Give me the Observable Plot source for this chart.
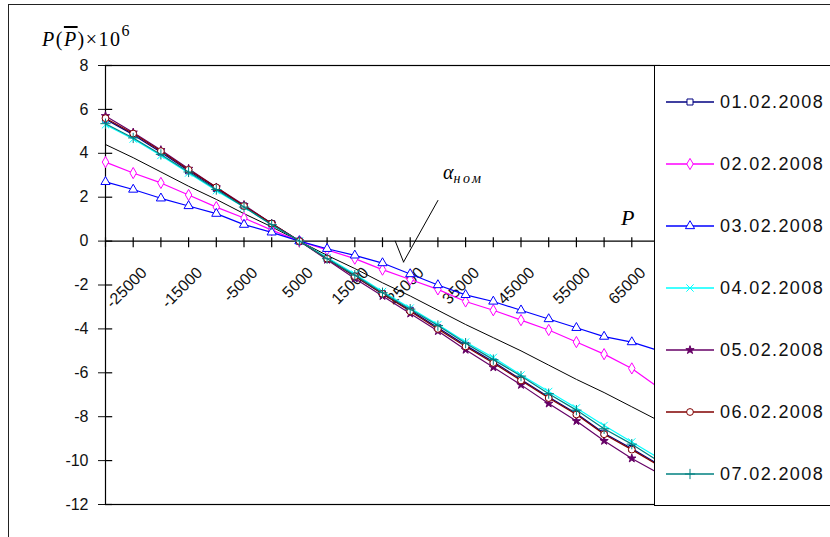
<!DOCTYPE html>
<html>
<head>
<meta charset="utf-8">
<script src="https://cdn.jsdelivr.net/npm/d3@7"></script>
<script src="https://cdn.jsdelivr.net/npm/@observablehq/plot@0.6"></script>
<style>
  body { margin: 0; background: #fff; }
  #wrap { position: relative; width: 830px; height: 537px; overflow: hidden; background: #fff;
          font-family: Arial, "Liberation Sans", sans-serif; }
  #border { position: absolute; left: 8px; top: 4px; width: 900px; height: 700px; border: 1.5px solid #222; box-sizing: border-box; }
  #chart { position: absolute; left: 0; top: 0; }
  .serif { font-family: "Liberation Serif", "Times New Roman", serif; white-space: nowrap; line-height: 1; position: absolute; }
  #title { left: 42px; top: 25px; font-size: 20px; letter-spacing: 1.5px; }
  #title sup { font-size: 16px; position: relative; top: -2px; }
  #plabel { left: 621px; top: 207px; font-size: 22px; font-style: italic; }
  #alpha { left: 443px; top: 162px; font-size: 20px; font-style: italic; }
  #alpha sub { font-size: 14px; letter-spacing: 2.5px; position: relative; top: -1px; }
  #legend { position: absolute; left: 654px; top: 65px; width: 260px; height: 441px; border: 1.5px solid #000;
            background: #fff; box-sizing: border-box; }
  .row { position: absolute; left: 10px; height: 20px; display: flex; align-items: center; }
  .row span { font-size: 18px; letter-spacing: 1.4px; line-height: 20px; color: #111; margin-left: 3px; white-space: nowrap; }
</style>
</head>
<body>
<div id="wrap">
  <div id="border"></div>
  <div id="chart"></div>
  <div id="title" class="serif"><i>P</i>(<i style="text-decoration: overline;">P</i>)×10<sup>6</sup></div>
  <div id="plabel" class="serif">P</div>
  <div id="alpha" class="serif">α<sub>ном</sub></div>
  <div id="legend"></div>
</div>
<script>
// ---- data ----
const xCategories = [-30000, -25000, -20000, -15000, -10000, -5000, 0, 5000, 10000, 15000, 20000,
                     25000, 30000, 35000, 40000, 45000, 50000, 55000, 60000, 65000, 70000];
const xTickLabels = [-25000, -15000, -5000, 5000, 15000, 25000, 35000, 45000, 55000, 65000];
const yTickValues = [8, 6, 4, 2, 0, -2, -4, -6, -8, -10, -12];

const seriesNames = ["01.02.2008", "02.02.2008", "03.02.2008", "04.02.2008", "05.02.2008", "06.02.2008", "07.02.2008"];
const seriesColors = ["#000080", "#FF00FF", "#0000FF", "#00FFFF", "#660066", "#800000", "#008080"];
const seriesSymbols = ["square", "diamond", "triangle", "times", "star", "circle", "plus"];

const values0102 = [5.55, 4.85, 4.05, 3.2, 2.4, 1.6, 0.8, 0, -0.8, -1.6, -2.4, -3.15, -3.95, -4.75, -5.5, -6.3, -7.1, -7.85, -8.75, -9.45, -10.2];
const values0202 = [3.6, 3.1, 2.65, 2.1, 1.55, 1.05, 0.5, 0, -0.4, -0.8, -1.3, -1.75, -2.2, -2.75, -3.15, -3.6, -4.05, -4.6, -5.15, -5.8, -6.7];
const values0302 = [2.7, 2.35, 1.95, 1.6, 1.25, 0.75, 0.4, 0, -0.35, -0.65, -1.0, -1.5, -2.0, -2.45, -2.75, -3.15, -3.55, -3.95, -4.35, -4.6, -5.0];
const values0402 = [5.3, 4.65, 3.9, 3.1, 2.3, 1.55, 0.75, 0, -0.75, -1.5, -2.3, -3.05, -3.8, -4.6, -5.3, -6.1, -6.85, -7.6, -8.4, -9.15, -9.9];
const values0502 = [5.7, 4.95, 4.15, 3.3, 2.45, 1.65, 0.8, 0, -0.85, -1.7, -2.5, -3.3, -4.1, -4.95, -5.75, -6.55, -7.4, -8.2, -9.1, -9.9, -10.6];
const values0602 = [5.6, 4.9, 4.1, 3.25, 2.45, 1.6, 0.8, 0, -0.8, -1.6, -2.4, -3.2, -4.0, -4.8, -5.55, -6.35, -7.15, -7.9, -8.8, -9.5, -10.25];
const values0702 = [5.35, 4.7, 3.95, 3.15, 2.35, 1.55, 0.75, 0, -0.8, -1.55, -2.35, -3.1, -3.85, -4.65, -5.4, -6.15, -6.95, -7.7, -8.55, -9.25, -10.05];
const nominalValues = [4.4, 3.8, 3.15, 2.5, 1.9, 1.25, 0.65, 0, -0.65, -1.25, -1.9, -2.5, -3.15, -3.8, -4.4, -5.0, -5.65, -6.3, -6.9, -7.55, -8.2];

// annotation pointer for α_ном (data coordinates)
const alphaPointer = [{x: 30000, y: 1.85}, {x: 23800, y: -0.95}];
const alphaArc = [{x: 22300, y: 0}, {x: 23800, y: -0.95}];

const allValues = [values0102, values0202, values0302, values0402, values0502, values0602, values0702];

// ---- tidy table ----
const rows = [];
allValues.forEach((vals, k) => vals.forEach((v, i) => rows.push({series: seriesNames[k], k, x: xCategories[i], y: v})));
const nominal = nominalValues.map((v, i) => ({x: xCategories[i], y: v}));

const fmt = d => (d < 0 ? "-" + Math.abs(d) : String(d));
const hollow = new Set(["square", "diamond", "triangle", "circle"]);
const symR = s => (s === "star" ? 2.6 : 3.4);

const marks = [
  Plot.frame({stroke: "#000", strokeWidth: 1.2}),
  Plot.ruleY(yTickValues, {y: d => d, x1: xCategories[0], x2: -28700, stroke: "#000", strokeWidth: 1.2}),
  Plot.ruleY([0], {stroke: "#000", strokeWidth: 1.2}),
  Plot.ruleX(xCategories, {x: d => d, y1: 0.15, y2: -0.3, stroke: "#000", strokeWidth: 1.2}),
  Plot.text(xTickLabels, {x: d => d, y: 0, text: d => fmt(d), rotate: -45, textAnchor: "end",
                          dx: 11, dy: 29, fontSize: 16, fill: "#111", style: "letter-spacing:1.2px"}),
  Plot.line(nominal, {x: "x", y: "y", stroke: "#000", strokeWidth: 1})
];
seriesNames.forEach((name, k) => {
  const d = rows.filter(r => r.k === k);
  const s = seriesSymbols[k];
  marks.push(Plot.line(d, {x: "x", y: "y", stroke: seriesColors[k], strokeWidth: 1.2}));
  marks.push(Plot.dot(d, {x: "x", y: "y", symbol: () => s, r: symR(s),
    stroke: seriesColors[k], strokeWidth: 1,
    fill: s === "star" ? seriesColors[k] : (hollow.has(s) ? "white" : "none")}));
});
marks.push(Plot.line(alphaPointer, {x: "x", y: "y", stroke: "#000", strokeWidth: 1}));
marks.push(Plot.line(alphaArc, {x: "x", y: "y", stroke: "#000", strokeWidth: 1}));

const chart = Plot.plot({
  width: 830, height: 537,
  marginLeft: 105, marginRight: 171, marginTop: 65, marginBottom: 33,
  style: {fontFamily: 'Arial, "Liberation Sans", sans-serif', fontSize: "16px", background: "transparent", color: "#111"},
  x: {domain: [xCategories[0], xCategories[xCategories.length - 1]], axis: null},
  y: {domain: [-12, 8], ticks: yTickValues, tickSize: 7, tickPadding: 10, tickFormat: fmt, label: null},
  symbol: {type: "identity"},
  marks
});
document.getElementById("chart").appendChild(chart);

// ---- legend ----
const symMap = {square: d3.symbolSquare, diamond: d3.symbolDiamond, triangle: d3.symbolTriangle,
                times: d3.symbolTimes, star: d3.symbolStar, circle: d3.symbolCircle, plus: d3.symbolPlus};
const legend = d3.select("#legend");
seriesNames.forEach((name, k) => {
  const row = legend.append("div").attr("class", "row").style("top", (36 - 10 + k * 62) + "px");
  const svg = row.append("svg").attr("width", 52).attr("height", 20);
  svg.append("line").attr("x1", 1).attr("x2", 49).attr("y1", 10).attr("y2", 10)
     .attr("stroke", seriesColors[k]).attr("stroke-width", 1.5);
  const s = seriesSymbols[k];
  svg.append("path").attr("transform", "translate(25,10)")
     .attr("d", d3.symbol(symMap[s], Math.PI * symR(s) * symR(s))())
     .attr("stroke", seriesColors[k]).attr("stroke-width", 1)
     .attr("fill", s === "star" ? seriesColors[k] : (hollow.has(s) ? "white" : "none"));
  row.append("span").text(name);
});
</script>
</body>
</html>
